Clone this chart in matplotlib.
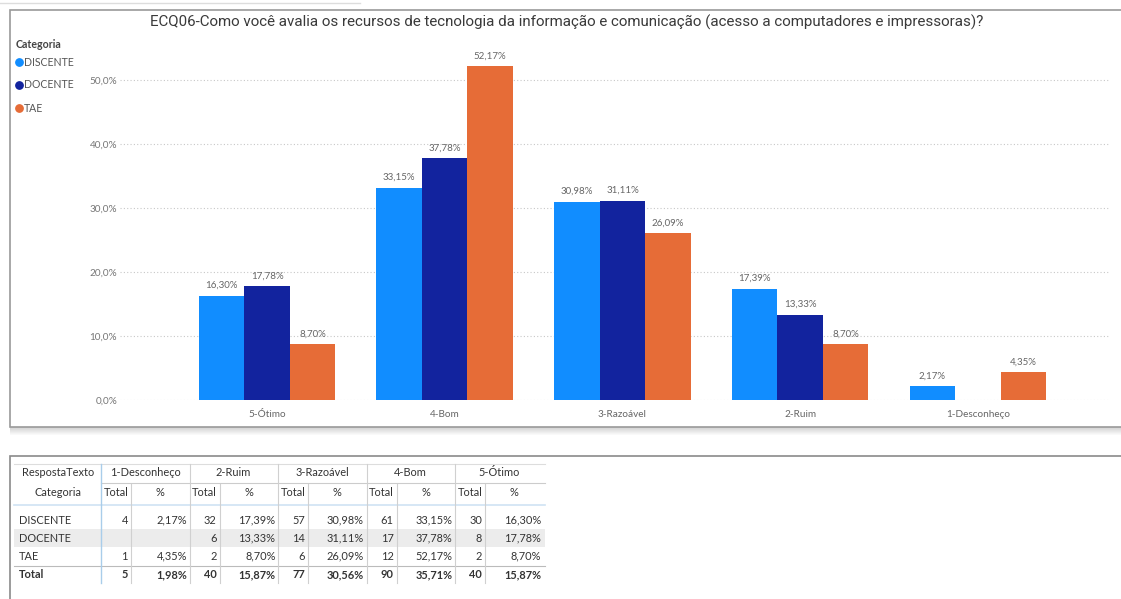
import matplotlib
matplotlib.use('Agg')
import matplotlib.pyplot as plt
from matplotlib.patches import Rectangle

# data
categorias = ['DISCENTE', 'DOCENTE', 'TAE']
cores = ['#118DFF', '#12239E', '#E66C37']
respostas = ['1-Desconheço', '2-Ruim', '3-Razoável', '4-Bom', '5-Ótimo']
total_discente = [4, 32, 57, 61, 30]
total_docente = [None, 6, 14, 17, 8]
total_tae = [1, 2, 6, 12, 2]
total_geral = [5, 40, 77, 90, 40]
pct_discente = [2.17, 17.39, 30.98, 33.15, 16.30]
pct_docente = [None, 13.33, 31.11, 37.78, 17.78]
pct_tae = [4.35, 8.70, 26.09, 52.17, 8.70]
pct_geral = [1.98, 15.87, 30.56, 35.71, 15.87]
yticks = [0, 10, 20, 30, 40, 50]

titulo = ('ECQ06-Como você avalia os recursos de tecnologia da informação e '
          'comunicação (acesso a computadores e impressoras)?')

W, H = 1121, 599
plt.rcParams['font.family'] = ['Lato', 'DejaVu Sans']
fig = plt.figure(figsize=(W / 100, H / 100), dpi=100)

# overlay in pixel coords for frames and the table
ov = fig.add_axes([0, 0, 1, 1], zorder=0)
ov.set_xlim(0, W)
ov.set_ylim(H, 0)
ov.axis('off')

# chart panel frame + shadow
for k in range(8):
    ov.add_patch(Rectangle((10, 427 + k), W, 1, color='#808080', alpha=0.35 * (1 - k / 8), lw=0))
ov.add_patch(Rectangle((10, 10), W, 417, facecolor='white', edgecolor='#9a9a9a', lw=1.2))
ov.plot([0, 360], [3, 3], color='#dddddd', lw=1)
# table panel frame
ov.add_patch(Rectangle((10, 456), W, 200, facecolor='white', edgecolor='#8a8a8a', lw=1.2))

fig.text(567 / W, 1 - 22 / H, titulo, ha='center', va='center', fontsize=10.9,
         color='#3a3a3a', family=['Roboto', 'DejaVu Sans'])

# legend
fig.text(16 / W, 1 - 44 / H, 'Categoria', ha='left', va='center', fontsize=7.6,
         fontweight='bold', color='#444444')
for i, (c, col) in enumerate(zip(categorias, cores)):
    y = 62 + 23 * i
    ov.scatter([19], [y], s=28, color=col, zorder=3)
    ov.text(24, y, c, ha='left', va='center', fontsize=7.6, color='#555555')

# chart
ax = fig.add_axes([120 / W, 1 - 400 / H, 990 / W, 352 / H], zorder=1)
ax.set_facecolor('none')
ordem = respostas[::-1]
series = [pct_discente[::-1], pct_docente[::-1], pct_tae[::-1]]
bw = 0.256
for s, (vals, col) in enumerate(zip(series, cores)):
    off = (s - 1) * bw
    for i, v in enumerate(vals):
        if v is None:
            continue
        ax.bar(i + off, v, width=bw, color=col, zorder=2)
        ax.text(i + off, v + 0.9, f'{v:.2f}%'.replace('.', ','), ha='center',
                va='bottom', fontsize=7, color='#666666')

ax.set_xlim(-0.827, 4.743)
ax.set_ylim(0, 55)
ax.set_yticks(yticks)
ax.set_yticklabels([f'{t:.1f}%'.replace('.', ',') for t in yticks], fontsize=7.2, color='#777777')
ax.set_xticks(range(len(ordem)))
ax.set_xticklabels(ordem, fontsize=7.2, color='#666666')
ax.tick_params(axis='x', length=0, pad=7)
ax.tick_params(axis='y', length=0, pad=2)
ax.yaxis.grid(True, linestyle=(0, (1, 2)), color='#c8c8c8', lw=0.8)
for sp in ax.spines.values():
    sp.set_visible(False)

# table
fs = 7.9
tc = '#333333'
g0, gw = 101, 88.5
ov.plot([14, 545], [464, 464], color='#dddddd', lw=0.8)
ov.plot([101, 545], [483, 483], color='#cccccc', lw=0.8)
ov.plot([14, 545], [505, 505], color='#cfe3f3', lw=1.2)
ov.add_patch(Rectangle((14, 529), 531, 18, color='#ececec', lw=0))
ov.plot([14, 545], [566, 566], color='#bbbbbb', lw=0.8)
ov.plot([101, 101], [464, 583], color='#a9cdea', lw=1)
for j in range(len(respostas)):
    x0 = g0 + gw * j
    if j:
        ov.plot([x0, x0], [464, 583], color='#d0d0d0', lw=0.8)
    ov.plot([x0 + 30, x0 + 30], [484, 583], color='#d0d0d0', lw=0.8)

ov.text(58, 473, 'RespostaTexto', ha='center', va='center', fontsize=fs, color=tc)
ov.text(58, 493, 'Categoria', ha='center', va='center', fontsize=fs, color=tc)
linhas = [('DISCENTE', total_discente, pct_discente, 520),
          ('DOCENTE', total_docente, pct_docente, 538),
          ('TAE', total_tae, pct_tae, 556),
          ('Total', total_geral, pct_geral, 575)]
for j, r in enumerate(respostas):
    x0 = g0 + gw * j
    ov.text(x0 + 44, 473, r, ha='center', va='center', fontsize=fs, color=tc)
    ov.text(x0 + 15, 493, 'Total', ha='center', va='center', fontsize=fs, color=tc)
    ov.text(x0 + 59, 493, '%', ha='center', va='center', fontsize=fs, color=tc)
for nome, tots, pcts, y in linhas:
    fw = 'bold' if nome == 'Total' else 'normal'
    ov.text(19, y, nome, ha='left', va='center', fontsize=fs, color=tc, fontweight=fw)
    for j in range(len(respostas)):
        x0 = g0 + gw * j
        if tots[j] is not None:
            ov.text(x0 + 27, y, str(tots[j]), ha='right', va='center', fontsize=fs,
                    color=tc, fontweight=fw)
        if pcts[j] is not None:
            ov.text(x0 + 86, y, f'{pcts[j]:.2f}%'.replace('.', ','), ha='right',
                    va='center', fontsize=fs, color=tc, fontweight=fw)

fig.savefig('out.png', dpi=100, facecolor='white')
